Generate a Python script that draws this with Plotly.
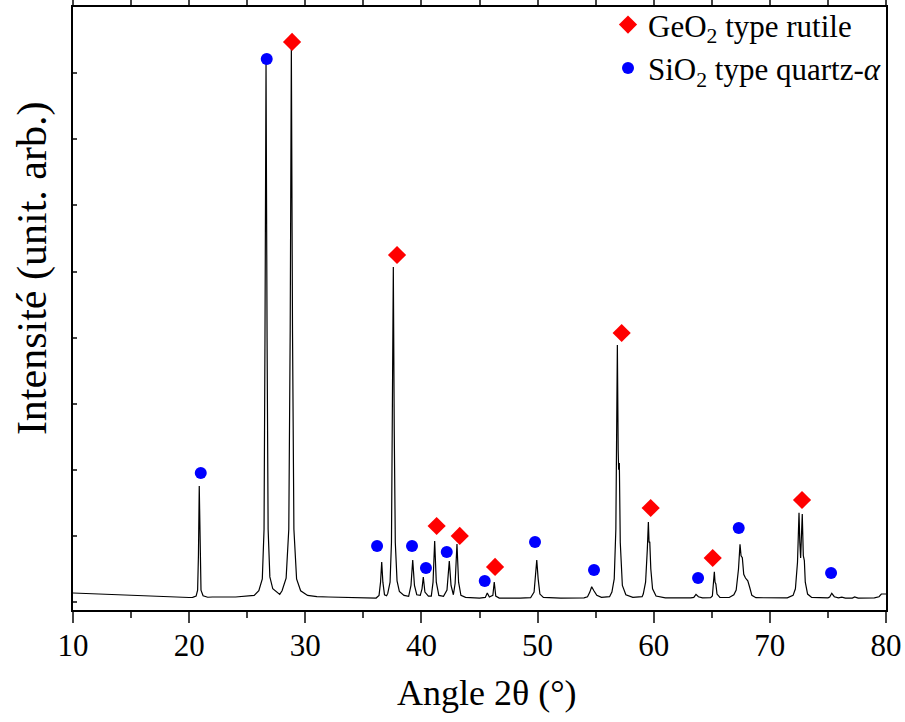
import plotly.graph_objects as go

# Digitised XRD pattern: (2theta, intensity a.u.)
pattern = [
    (10.0, 136), (12.0, 121), (15.0, 98), (18.0, 76), (20.0, 68), (20.3, 70), (20.6, 90),
    (20.73, 180), (20.80, 700), (20.87, 1755), (20.94, 700), (21.02, 180), (21.2, 95),
    (21.6, 72), (22.0, 76), (24.0, 76), (25.6, 100),
    (26.0, 170), (26.3, 350), (26.45, 1100), (26.53, 4000), (26.62, 8155), (26.71, 4000),
    (26.8, 1100), (26.95, 380), (27.2, 200), (27.8, 115),
    (28.0, 170), (28.35, 360), (28.58, 1100), (28.7, 4100), (28.8, 8382), (28.9, 4100),
    (29.02, 1100), (29.25, 350), (29.6, 170), (30.2, 100), (31.0, 82), (32.0, 76),
    (34.0, 65), (35.5, 61),
    (36.1, 60), (36.35, 100), (36.48, 300), (36.58, 605), (36.68, 300), (36.82, 110), (37.0, 95),
    (37.1, 130), (37.3, 300), (37.42, 900), (37.5, 2600), (37.58, 5069), (37.66, 2600),
    (37.75, 900), (37.9, 320), (38.1, 160), (38.5, 100),
    (38.9, 85), (39.1, 250), (39.25, 635), (39.4, 250), (39.6, 110), (39.9, 100),
    (40.05, 200), (40.16, 378), (40.3, 150), (40.6, 90),
    (40.85, 90), (41.0, 300), (41.14, 923), (41.28, 300), (41.5, 100), (41.9, 85),
    (42.2, 180), (42.4, 620), (42.55, 250), (42.75, 110),
    (42.9, 280), (43.06, 878), (43.2, 300), (43.4, 100), (43.8, 70), (45.0, 60),
    (45.5, 70), (45.67, 136), (45.85, 75),
    (46.15, 100), (46.27, 303), (46.4, 90), (46.7, 60), (48.5, 58),
    (49.4, 65), (49.7, 150), (49.83, 400), (49.93, 635), (50.05, 350), (50.2, 120),
    (50.5, 70), (52.0, 60), (54.0, 62),
    (54.3, 80), (54.5, 150), (54.66, 231), (54.85, 170), (55.1, 100), (55.5, 70), (56.2, 80),
    (56.4, 150), (56.6, 350), (56.74, 1100), (56.8, 2300), (56.87, 3888), (56.94, 2300),
    (56.98, 2000), (57.04, 2103), (57.12, 900), (57.3, 250), (57.6, 110), (58.2, 70), (59.0, 80),
    (59.1, 120), (59.3, 300), (59.45, 800), (59.54, 1210), (59.6, 900), (59.66, 912),
    (59.75, 500), (59.9, 200), (60.2, 90), (61.0, 62), (63.2, 62),
    (63.45, 70), (63.64, 115), (63.85, 80), (64.2, 62), (64.9, 65),
    (65.05, 90), (65.15, 250), (65.22, 458), (65.28, 300), (65.35, 272), (65.45, 120),
    (65.7, 70), (66.5, 68), (66.9, 110),
    (67.1, 180), (67.3, 500), (67.43, 873), (67.52, 700), (67.63, 670), (67.75, 420),
    (67.9, 363), (68.1, 320), (68.25, 231), (68.45, 100), (68.8, 65), (71.5, 62), (72.0, 100),
    (72.2, 200), (72.38, 600), (72.51, 1351), (72.58, 900), (72.65, 666), (72.72, 1000),
    (72.79, 1331), (72.88, 700), (72.97, 625), (73.05, 300), (73.25, 120), (73.6, 70), (75.0, 62),
    (75.15, 75), (75.33, 132), (75.55, 80), (75.9, 62), (76.2, 75), (76.5, 60), (77.1, 60),
    (77.3, 78), (77.6, 60), (79.0, 62), (79.4, 80), (79.6, 121), (80.0, 121),
]
two_theta = [p[0] for p in pattern]
intensity = [p[1] for p in pattern]

# Phase markers
rutile_2theta = [28.86, 37.9, 41.31, 43.3, 46.34, 57.24, 59.74, 65.08, 72.77]
rutile_int = [8473, 5250, 1150, 999, 530, 4070, 1422, 666, 1543]
quartz_2theta = [21.0, 26.68, 36.18, 39.19, 40.39, 42.18, 45.45, 49.78, 54.86, 63.82, 67.32, 75.27]
quartz_int = [1952, 8216, 847, 847, 514, 757, 318, 908, 484, 363, 1120, 439]

x_ticks = [10, 20, 30, 40, 50, 60, 70, 80]

FONT = "Liberation Serif"

fig = go.Figure()
fig.add_trace(go.Scatter(x=two_theta, y=intensity, mode="lines",
                         line=dict(color="black", width=1.2), showlegend=False,
                         hoverinfo="skip"))
fig.add_trace(go.Scatter(x=rutile_2theta, y=rutile_int, mode="markers",
                         marker=dict(symbol="diamond", color="#ff0000", size=14),
                         name="GeO<sub>2</sub> type rutile"))
fig.add_trace(go.Scatter(x=quartz_2theta, y=quartz_int, mode="markers",
                         marker=dict(symbol="circle", color="#0000ff", size=12),
                         name="SiO<sub>2</sub> type quartz-<i>α</i>"))

fig.update_layout(
    width=905, height=722,
    margin=dict(l=73, r=19, t=7, b=112, autoexpand=False),
    plot_bgcolor="white", paper_bgcolor="white",
    font=dict(family=FONT, color="black", size=30),
    legend=dict(x=1.0, y=1.015, xanchor="right", yanchor="top",
                bgcolor="rgba(0,0,0,0)", font=dict(size=31, family=FONT),
                itemwidth=30, tracegroupgap=0),
    xaxis=dict(range=[10, 80], tickvals=x_ticks, ticks="outside", ticklen=11, tickwidth=2,
               showline=True, linewidth=2, linecolor="black", mirror="ticks",
               showgrid=False, zeroline=False, automargin=False,
               tickfont=dict(size=31, family=FONT), ticklabelstandoff=-4,
               minor=dict(dtick=5, tick0=0, ticks="outside", ticklen=6, tickwidth=2)),
    yaxis=dict(range=[-121, 9002], dtick=1000, tick0=0, ticks="inside", ticklen=4,
               tickwidth=1.5, showline=True, linewidth=2, linecolor="black", mirror=True,
               showticklabels=False, showgrid=False, zeroline=False, automargin=False),
    yaxis2=dict(range=[-121, 9002], dtick=1000, tick0=0, overlaying="y", side="right",
                ticks="outside", ticklen=4, tickwidth=1.5, showticklabels=False,
                showgrid=False, zeroline=False, showline=False, automargin=False),
    annotations=[
        dict(text="Angle 2θ (°)", xref="paper", yref="paper", x=0.509, y=-0.138,
             xanchor="center", yanchor="middle", showarrow=False,
             font=dict(size=36, family=FONT)),
        dict(text="Intensité (unit. arb.)", xref="paper", yref="paper", x=-0.0504, y=0.567,
             xanchor="center", yanchor="middle", showarrow=False, textangle=-90,
             font=dict(size=42, family=FONT)),
    ],
)

fig.write_html("out.html", config={"displayModeBar": False},
               post_script="document.body.style.margin='0px';")
